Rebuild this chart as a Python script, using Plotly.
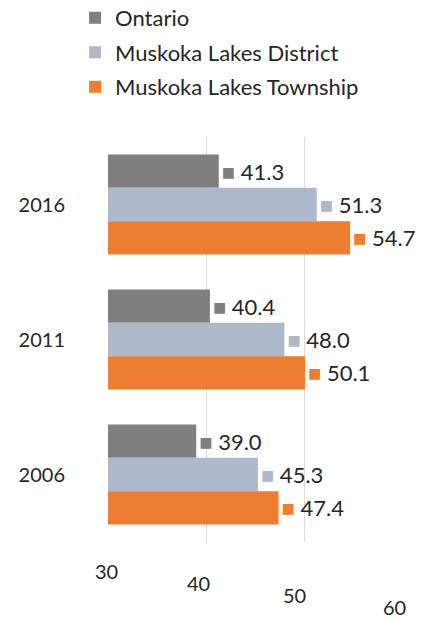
import plotly.graph_objects as go

years = ["2016", "2011", "2006"]
ontario = [41.3, 40.4, 39.0]
district = [51.3, 48.0, 45.3]
township = [54.7, 50.1, 47.4]
series_names = ["Ontario", "Muskoka Lakes District", "Muskoka Lakes Township"]
colors = ["#7f7f7f", "#adb9ca", "#ed7d31"]
x_ticks = [30, 40, 50, 60]

FONT = "Lato, Calibri, Carlito, sans-serif"
TXT = "#262626"

fig = go.Figure()
for name, vals, col in zip(series_names, [ontario, district, township], colors):
    fig.add_trace(go.Bar(
        y=years, x=[v - 30 for v in vals], base=30, orientation="h", name=name,
        legendgroup=name,
        marker=dict(color=col, line=dict(color=col, width=0)),
        text=[f"<span style='color:{col}'>■</span> {v:.1f}" for v in vals],
        textposition="outside", cliponaxis=False, constraintext="none",
        textfont=dict(size=22, color=TXT, family=FONT),
    ))

fig.update_layout(
    width=446, height=621,
    margin=dict(l=108, r=44, t=137, b=79, autoexpand=False),
    paper_bgcolor="white", plot_bgcolor="white",
    barmode="group", bargap=0.26, bargroupgap=0,
    font=dict(family=FONT, size=20, color=TXT),
    legend=dict(
        orientation="v", x=-0.112, xanchor="left", y=1.346, yanchor="top",
        traceorder="grouped", tracegroupgap=3,
        font=dict(size=22, color=TXT), itemwidth=30,
    ),
    showlegend=True,
)
fig.update_xaxes(
    range=[30, 60], tickvals=x_ticks, showticklabels=False,
    showgrid=True, gridcolor="#dcdcdc", gridwidth=1, zeroline=False,
    showline=False,
)
fig.update_yaxes(
    autorange="reversed", showgrid=False, showline=False, zeroline=False,
    ticks="", ticklabelstandoff=42, tickfont=dict(size=20, color=TXT),
)

yoffs = [-0.072, -0.102, -0.132, -0.161]
xshifts = [-2, -8, -10, -8]
for t, yo, xs in zip(x_ticks, yoffs, xshifts):
    fig.add_annotation(x=t, y=yo, xref="x", yref="paper", text=str(t),
                       showarrow=False, xshift=xs, yanchor="middle",
                       font=dict(size=20, color=TXT, family=FONT))

fig.write_html("out.html", config={"displayModeBar": False},
               post_script="document.body.style.margin='0';document.body.style.padding='0';")
